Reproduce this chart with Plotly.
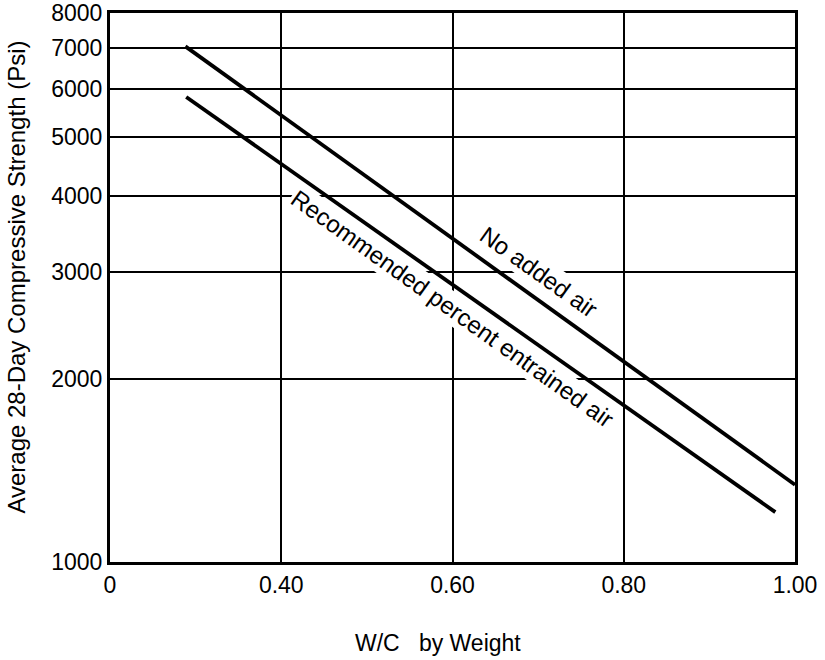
import math
import plotly.graph_objects as go

# Water-cement ratio vs. average 28-day compressive strength
wc_no_air = [0.288, 1.00]
strength_no_air = [7050, 1340]

wc_entrained = [0.289, 0.977]
strength_entrained = [5820, 1208]

x_tick_vals = [0.2, 0.4, 0.6, 0.8, 1.0]
x_tick_text = ["0", "0.40", "0.60", "0.80", "1.00"]
y_tick_vals = [1000, 2000, 3000, 4000, 5000, 6000, 7000, 8000]
y_tick_text = [str(v) for v in y_tick_vals]

FONT = "Liberation Sans, Arial, sans-serif"

fig = go.Figure()
fig.add_trace(go.Scatter(x=wc_no_air, y=strength_no_air, mode="lines",
                         line=dict(color="black", width=3.8), showlegend=False))
fig.add_trace(go.Scatter(x=wc_entrained, y=strength_entrained, mode="lines",
                         line=dict(color="black", width=3.8), showlegend=False))

# Curve labels set along the lines, with a white box that breaks the grid
fig.add_annotation(x=0.70, y=math.log10(3000), text="No added air",
                   textangle=35.5, showarrow=False, bgcolor="white", borderpad=1,
                   font=dict(family=FONT, size=24, color="black"))
fig.add_annotation(x=0.60, y=math.log10(2617), text="Recommended percent entrained air",
                   textangle=35.5, showarrow=False, bgcolor="white", borderpad=1,
                   font=dict(family=FONT, size=24, color="black"))

# Axis titles
fig.add_annotation(xref="paper", yref="paper", x=0.479, y=0, yshift=-81,
                   xanchor="center", yanchor="middle", showarrow=False,
                   text="W/C   by Weight",
                   font=dict(family=FONT, size=23, color="black"))
fig.add_annotation(xref="paper", yref="paper", x=0, xshift=-93, y=0.518,
                   xanchor="center", yanchor="middle", showarrow=False, textangle=-90,
                   text="Average 28-Day Compressive Strength (Psi)",
                   font=dict(family=FONT, size=24, color="black"))

fig.update_xaxes(range=[0.2, 1.0], tickvals=x_tick_vals, ticktext=x_tick_text,
                 showgrid=True, gridcolor="black", gridwidth=1.5,
                 showline=True, linecolor="black", linewidth=3, mirror=True,
                 ticks="", zeroline=False, automargin=False,
                 tickfont=dict(family=FONT, size=23, color="black"))
fig.update_yaxes(type="log", range=[3, math.log10(8000)],
                 tickvals=y_tick_vals, ticktext=y_tick_text,
                 showgrid=True, gridcolor="black", gridwidth=1.5,
                 showline=True, linecolor="black", linewidth=3, mirror=True,
                 ticks="", zeroline=False, automargin=False,
                 tickfont=dict(family=FONT, size=23, color="black"))

fig.update_layout(width=825, height=660, margin=dict(l=110, r=30, t=13, b=98),
                  plot_bgcolor="white", paper_bgcolor="white")

fig.write_html("out.html")
